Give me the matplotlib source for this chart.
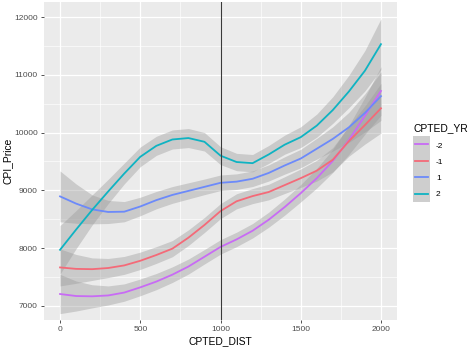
import numpy as np
import matplotlib
matplotlib.use("Agg")
import matplotlib.pyplot as plt
from matplotlib.patches import Rectangle

plt.rcParams['font.family'] = ['Liberation Sans', 'DejaVu Sans']

# ---- data ----
dist = [0, 100, 200, 300, 400, 500, 600, 700, 800, 900, 1000,
        1100, 1200, 1300, 1400, 1500, 1600, 1700, 1800, 1900, 2000]

groups = ['-2', '-1', '1', '2']
colors = ['#C86BF5', '#F46A78', '#6C8AFA', '#0FB3C2']

price_m2 = [7205, 7170, 7165, 7180, 7230, 7320, 7420, 7540, 7680, 7850, 8020,
            8150, 8300, 8490, 8710, 8950, 9210, 9510, 9870, 10290, 10720]
price_m1 = [7665, 7640, 7635, 7655, 7700, 7780, 7880, 7990, 8180, 8400, 8640,
            8810, 8900, 8970, 9090, 9210, 9340, 9530, 9850, 10130, 10420]
price_p1 = [8895, 8770, 8670, 8625, 8630, 8720, 8830, 8920, 8990, 9060, 9130,
            9150, 9200, 9300, 9430, 9550, 9720, 9890, 10090, 10340, 10630]
price_p2 = [7970, 8320, 8660, 8980, 9290, 9580, 9770, 9880, 9905, 9840, 9600,
            9490, 9470, 9620, 9790, 9920, 10120, 10390, 10710, 11070, 11530]

hw_m2 = [340, 260, 200, 165, 150, 145, 140, 135, 130, 125, 125,
         125, 125, 130, 140, 150, 170, 200, 250, 320, 420]
hw_m1 = [320, 250, 195, 165, 155, 150, 145, 140, 135, 130, 130,
         130, 130, 135, 145, 160, 180, 210, 260, 330, 430]
hw_p1 = [440, 340, 250, 200, 175, 160, 150, 145, 140, 135, 135,
         135, 135, 140, 150, 160, 180, 210, 260, 330, 420]
hw_p2 = [420, 330, 260, 210, 180, 170, 165, 165, 165, 160, 155,
         150, 150, 155, 165, 180, 200, 230, 280, 350, 440]

prices = [price_m2, price_m1, price_p1, price_p2]
halfw = [hw_m2, hw_m1, hw_p1, hw_p2]

x_ticks = [0, 500, 1000, 1500, 2000]
y_ticks = [7000, 8000, 9000, 10000, 11000, 12000]
vline_x = 1000

# ---- figure ----
W, H = 474, 350
fig = plt.figure(figsize=(W / 100, H / 100), dpi=100)
fig.patch.set_facecolor('white')
ax = fig.add_axes([44 / W, 1 - 320 / H, (397 - 44) / W, (320 - 2) / H])
ax.set_facecolor('#EBEBEB')

x = np.array(dist)
for p, h, c in zip(prices, halfw, colors):
    p = np.array(p); h = np.array(h)
    ax.fill_between(x, p - h, p + h, color='#999999', alpha=0.4, lw=0, zorder=2)
for p, c in zip(prices, colors):
    ax.plot(x, p, color=c, lw=1.3, zorder=3, solid_joinstyle='round')

ax.axvline(vline_x, color='#3A3A3A', lw=0.8, zorder=4)

ax.set_xlim(-100, 2100)
ax.set_ylim(6755, 12260)
ax.set_xticks(x_ticks)
ax.set_yticks(y_ticks)
ax.set_xticks([250, 750, 1250, 1750], minor=True)
ax.set_yticks([7500, 8500, 9500, 10500, 11500], minor=True)
ax.grid(which='major', color='white', lw=0.9, zorder=0)
ax.grid(which='minor', color='white', lw=0.45, zorder=0)
ax.set_axisbelow(True)
for s in ax.spines.values():
    s.set_visible(False)
ax.tick_params(which='major', length=2.5, width=0.6, color='#333333',
               labelsize=6, labelcolor='#4D4D4D', pad=2)
ax.tick_params(which='minor', length=0)
ax.set_xticklabels([str(v) for v in x_ticks])
ax.set_yticklabels([str(v) for v in y_ticks])

fig.text(220 / W, 1 - 341 / H, 'CPTED_DIST', ha='center', va='center',
         fontsize=7.4, color='black')
fig.text(8 / W, 1 - 161 / H, 'CPI_Price', ha='center', va='center',
         fontsize=7.4, color='black', rotation=90)

# ---- legend ----
fig.text(413 / W, 1 - 128 / H, 'CPTED_YR', ha='left', va='center',
         fontsize=7.4, color='black')
lax = fig.add_axes([413 / W, 1 - 202 / H, 17 / W, 66 / H])
lax.set_xlim(0, 1)
lax.set_ylim(0, 4)
lax.axis('off')
for i, (g, c) in enumerate(zip(groups, colors)):
    yy = 3 - i
    lax.add_patch(Rectangle((0, yy), 1, 1, facecolor='#F2F2F2', lw=0))
    lax.add_patch(Rectangle((0, yy), 1, 1, facecolor='#999999', alpha=0.4, lw=0))
    lax.plot([0.1, 0.9], [yy + 0.5, yy + 0.5], color=c, lw=1.3)
    fig.text(436 / W, 1 - (146 + 16.3 * i) / H, g, ha='left', va='center',
             fontsize=6, color='black')

fig.savefig('out.png', dpi=100)
